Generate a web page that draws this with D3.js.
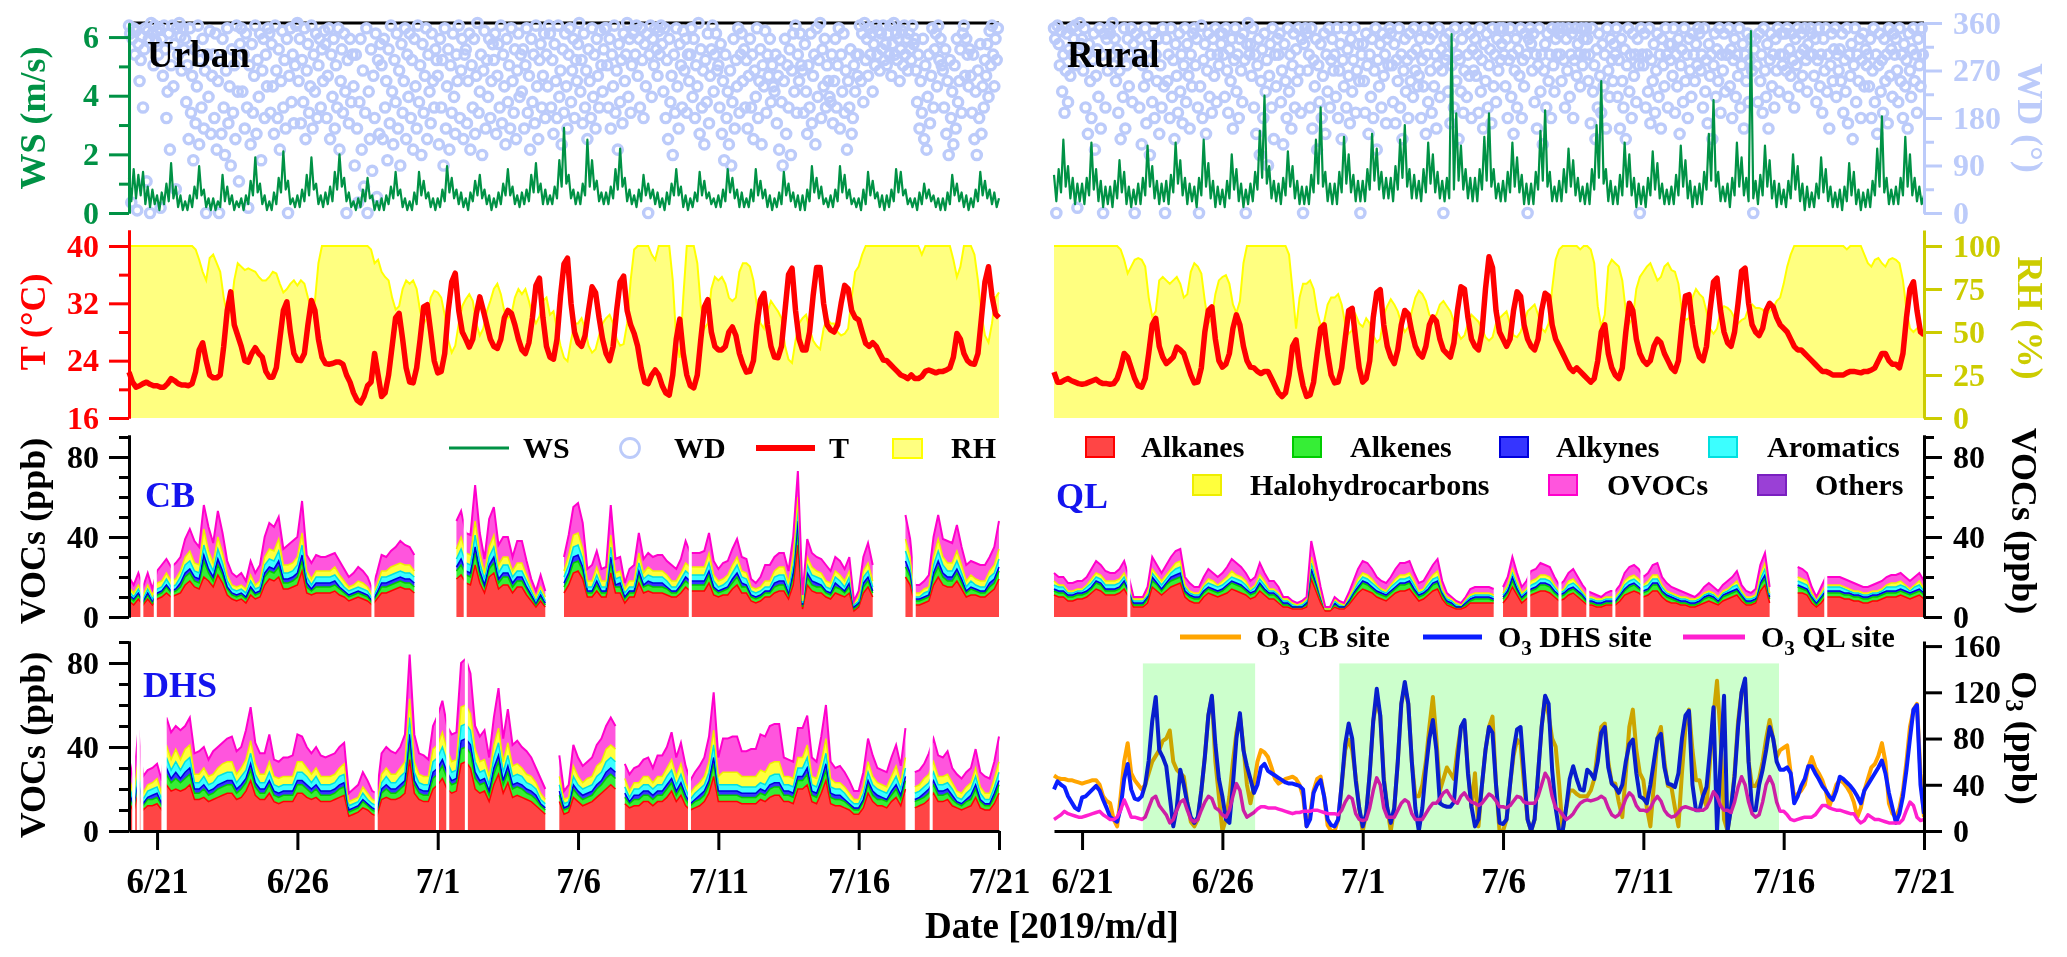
<!DOCTYPE html>
<html><head><meta charset="utf-8">
<script src="https://cdn.jsdelivr.net/npm/d3@7/dist/d3.min.js"></script>
<style>html,body{margin:0;padding:0;background:#fff;}svg{display:block;}</style>
</head><body>
<svg id="chart" width="2067" height="957"></svg>
<script>
// ================= DATA =================
const dateTicks = ["6/21","6/26","7/1","7/6","7/11","7/16","7/21"];
const vocCategories = ["Alkanes","Alkenes","Alkynes","Aromatics","Halohydrocarbons","OVOCs","Others"];
const metLegend = ["WS","WD","T","RH"];
const o3Sites = ["CB site","DHS site","QL site"];
const siteNames = ["CB","DHS","QL"];
const panelNames = ["Urban","Rural"];

// Temperature (°C), 3-hourly from 2019-06-20 00:00
const urbanT = [22.4,21,20.3,20.5,20.8,21,20.7,20.5, 20.5,20.3,20.3,20.8,21.5,21.2,20.8,20.6, 20.6,20.5,20.8,22.5,25.5,26.5,24,22, 21.6,21.6,22,26,31,33.6,29,27.5, 26,24,23.8,25,25.8,25,24.5,22.5, 21.7,21.7,23,27,31,32.2,28,25, 24.1,24,25,29,32.4,31,27,24.5, 23.6,23.5,23.6,23.8,23.8,23.5,22,21, 19.5,18.5,18.1,19,20.5,21,25,22, 19,19.5,22,26,30,30.6,27,23, 21,20.9,23,27,31.5,31.8,28,24, 22.3,22.5,25,31,35,36.2,31,28, 27,25.9,27,30.5,32.9,31,29,27, 26,25.7,27,30,31,30.6,29,27, 25.5,25,26.5,30,34.5,35.5,30,26, 24.5,24.2,27,33,37.5,38.3,32,28, 26.5,26,27.5,31,34.3,33.5,30,27, 25,24,26,31,35,35.8,31,29, 27.8,26,23,21,20.8,22,22.7,22, 20.5,19.5,19.2,22,27,29.8,25,22, 20.5,20.2,22,27,31.5,32.5,28,26, 25.5,25.5,26,28,28.7,27.5,25,23.5, 22.4,22.5,24,29,32.5,33.4,29,26, 24.5,24.4,26,31,36,36.9,31,27, 25.5,25.5,28,33,37,37,32,29, 28.3,28,29,32,34.5,34,31,30, 29.7,28,26.4,26,26.5,26,25,24.1, 24,23.5,23,22.5,22,21.8,21.5,22, 21.5,21.5,21.8,22.5,22.7,22.5,22.3,22.5, 22.5,22.7,23,24.5,27.8,27,25,24, 23.6,23.5,25,30,35,37.1,33,30.5, 30];
const ruralT = [22.4,21,21,21.3,21.5,21.2,21,20.8, 20.7,20.8,21,21.2,21.4,21,20.8,20.8, 20.7,20.8,21.5,23,25,24.5,23,21.5, 20.5,20.3,21.5,25,29,29.9,26,24.5, 23.6,24,24.5,25.9,25.5,25,23.5,22, 20.9,21,23,28,31,31.5,27,24, 23.1,23.5,25,28.5,30.4,29,26,24, 23.1,23,22.5,22.2,22.5,22.5,21.5,20.5, 19.5,19,19.5,22,26,26.9,23,20.5, 19,19.2,21,25,28.5,29,25,22, 20.9,21,23,27,31,31.3,27,23, 21,21.5,24,30,33.5,33.9,29,26, 24.5,23.6,25.5,29,31,30.5,28,26, 25,24.5,26,29,30.1,29.5,27,25.5, 25,24.5,26.5,31,34.3,34,30,27, 26,25.5,28,34,38.5,37,31,28, 27,26,27,31,33.6,33,29,27, 26,25.5,27,31,33.4,33,29,27, 26,25,24,23,22.5,23,22.5,22, 21.5,21,21.5,24,28,29,25,23, 22,21.5,23,28,32,31,27,25, 24,23.5,24,26,27,26.5,25,24, 23,22.5,24,29,33,33.2,29,26, 24.5,24,26,31,35,35.5,31,28, 26.5,26,28,32,36.5,36.9,32,29, 28,27.5,28.5,31,32,31.5,30,29, 28.5,28,27,26,25.5,25.5,25,24.5, 24,23.5,23,22.5,22.5,22.3,22,22, 22,22,22.3,22.5,22.5,22.4,22.3,22.5, 22.5,22.7,23,24,25,25,24,23.5, 23.5,23,25,30,34,35,31,28, 27.6];

// Relative humidity (%), 3-hourly
const urbanRH = [100,100,100,100,100,100,100,100, 100,100,100,100,100,100,100,100, 100,100,100,98,92,85,80,93, 95,90,85,70,60,62,80,90, 88,86,87,86,85,82,80,80, 82,85,84,78,73,75,78,80, 77,80,78,70,63,68,90,100, 100,100,100,100,100,100,100,100, 100,100,100,100,100,98,90,92, 85,82,80,70,63,65,75,80, 78,80,75,62,55,58,70,74, 73,70,60,45,38,42,55,65, 69,72,68,55,48,52,62,68, 75,78,72,62,58,60,70,75, 72,75,68,60,55,59,68,70, 60,62,52,42,35,33,45,55, 55,58,52,42,38,40,48,55, 58,60,55,46,42,43,55,80, 98,100,100,100,100,95,92,100, 100,100,100,80,45,35,70,100, 100,100,90,65,52,55,75,82, 80,82,78,70,68,70,85,90, 90,88,80,65,55,52,62,68, 65,62,58,42,34,32,45,55, 58,60,52,45,42,40,52,58, 55,55,50,48,49,52,70,85, 88,95,100,100,100,100,100,100, 100,100,100,100,100,100,100,100, 100,100,95,100,100,100,100,100, 100,100,100,92,82,88,100,100, 100,95,80,60,48,44,55,70, 73];
const ruralRH = [100,100,100,100,100,100,100,100, 100,100,100,100,100,100,100,100, 100,100,100,98,92,84,88,92, 93,92,88,70,59,62,80,82, 80,78,80,82,78,70,72,85, 90,88,84,68,55,58,72,80, 82,83,78,66,61,68,90,100, 100,100,100,100,100,100,100,100, 100,100,100,95,74,52,70,78, 78,80,75,62,54,56,66,70, 70,72,66,55,49,51,60,55, 53,58,55,48,44,46,60,65, 69,66,62,55,50,53,62,70, 74,72,68,60,58,60,66,68, 65,62,56,50,46,48,55,60, 58,56,52,47,45,47,55,58, 60,62,55,48,47,50,56,62, 64,66,60,52,50,55,75,92, 98,100,100,100,100,100,98,100, 100,98,90,65,53,60,88,92, 90,88,80,62,55,58,75,82, 85,88,90,85,80,82,88,90, 86,85,78,62,57,58,70,75, 72,70,62,52,49,52,62,65, 64,62,58,55,57,58,64,66, 64,64,63,60,62,64,68,70, 78,88,95,100,100,100,100,100, 100,100,100,100,100,100,100,100, 100,100,98,100,100,100,100,95, 90,88,92,93,90,88,92,93, 92,90,80,63,52,50,52,51, 51];

// Wind speed (m/s), 2-hourly
const urbanWS = [1.2,0.4,1.5,0.5,1.3,0.6,1.4,0.3,0.9,0.2,0.8,0.3, 0.6,0.1,0.7,0.3,1.0,0.4,1.7,0.5,0.9,0.2,0.6,0.1, 0.4,0.1,0.6,0.2,0.9,0.5,1.6,0.6,0.8,0.2,0.5,0.1, 0.5,0.1,0.4,0.2,1.3,0.4,0.9,0.3,0.6,0.1,0.4,0.2, 0.5,0.1,0.6,0.3,1.1,0.6,1.9,0.7,1.0,0.3,0.6,0.1, 0.4,0.1,0.7,0.3,1.2,0.7,2.1,0.8,1.1,0.3,0.5,0.2, 0.6,0.2,0.8,0.4,1.3,0.6,1.9,0.8,1.0,0.3,0.6,0.2, 0.7,0.3,0.9,0.4,1.4,0.8,2.0,0.9,1.2,0.4,0.7,0.2, 0.4,0.1,0.5,0.2,0.8,0.4,1.2,0.5,0.6,0.1,0.4,0.1, 0.5,0.1,0.6,0.3,0.9,0.5,1.4,0.6,0.8,0.2,0.5,0.1, 0.4,0.1,0.7,0.3,1.4,0.6,1.1,0.5,0.7,0.2,0.5,0.1, 0.5,0.2,0.8,0.4,1.6,0.7,1.2,0.5,0.8,0.3,0.7,0.2, 0.5,0.1,0.7,0.4,1.1,0.6,1.3,0.5,0.8,0.3,0.6,0.1, 0.5,0.2,0.7,0.3,1.0,0.6,1.5,0.6,0.9,0.3,0.6,0.2, 0.7,0.3,0.8,0.4,1.3,0.7,1.7,0.7,1.0,0.3,0.8,0.3, 0.6,0.3,0.9,0.5,1.8,0.9,2.9,1.0,1.3,0.5,0.8,0.3, 0.7,0.3,1.0,0.6,2.5,0.9,1.8,0.8,1.1,0.4,0.7,0.3, 0.7,0.3,0.9,0.5,1.5,0.8,2.2,0.9,1.2,0.4,0.8,0.3, 0.6,0.2,0.8,0.4,1.3,0.6,1.0,0.5,0.8,0.3,0.7,0.2, 0.5,0.1,0.7,0.3,1.0,0.6,1.5,0.6,0.9,0.2,0.6,0.1, 0.5,0.2,0.7,0.4,1.4,0.6,1.1,0.5,0.7,0.3,0.5,0.2, 0.6,0.2,0.8,0.4,1.5,0.7,1.2,0.5,0.8,0.2,0.7,0.2, 0.5,0.2,0.8,0.4,1.5,0.6,1.1,0.5,0.8,0.2,0.6,0.1, 0.5,0.2,0.7,0.3,1.4,0.6,1.0,0.4,0.7,0.2,0.6,0.1, 0.6,0.1,0.8,0.4,1.6,0.7,1.2,0.5,0.9,0.3,0.5,0.2, 0.6,0.2,0.8,0.4,1.6,0.7,1.3,0.5,0.8,0.3,0.5,0.2, 0.5,0.1,0.8,0.3,1.4,0.6,1.1,0.5,0.7,0.2,0.6,0.1, 0.6,0.2,0.8,0.4,1.5,0.7,1.4,0.6,0.8,0.3,0.5,0.2, 0.5,0.1,0.7,0.3,1.0,0.5,0.8,0.4,0.6,0.2,0.5,0.1, 0.5,0.1,0.7,0.3,1.3,0.6,1.0,0.4,0.7,0.2,0.6,0.1, 0.5,0.2,0.8,0.4,1.4,0.6,1.1,0.5,0.8,0.3,0.7,0.2, 0.5];
const ruralWS = [1.3,0.4,1.5,0.7,2.5,0.9,1.6,0.5,1.2,0.3,1.0,0.4, 1.0,0.3,1.2,0.6,2.4,0.8,1.5,0.4,1.1,0.2,0.9,0.3, 0.9,0.2,1.1,0.5,1.8,0.7,1.4,0.3,0.9,0.2,0.8,0.3, 1.0,0.3,1.2,0.6,2.3,0.9,1.6,0.5,1.1,0.3,1.0,0.4, 1.1,0.3,1.3,0.7,2.4,1.0,1.8,0.6,1.2,0.3,1.0,0.4, 0.9,0.2,1.2,0.6,2.5,0.9,1.7,0.5,1.1,0.2,0.9,0.3, 0.8,0.2,1.1,0.5,2.0,0.8,1.5,0.4,1.0,0.2,0.8,0.3, 1.0,0.4,1.4,0.8,2.8,1.2,4.0,1.0,1.6,0.5,1.1,0.4, 1.0,0.3,1.2,0.6,2.1,0.9,1.6,0.5,1.1,0.3,0.9,0.3, 0.9,0.3,1.3,0.7,2.5,1.0,3.6,0.9,1.4,0.4,1.0,0.3, 1.0,0.3,1.4,0.7,2.6,1.0,2.0,0.7,1.3,0.4,1.1,0.4, 1.1,0.4,1.5,0.8,2.7,1.1,2.2,0.8,1.4,0.5,1.2,0.5, 1.2,0.4,1.6,0.8,2.5,1.2,3.0,0.9,1.5,0.5,1.3,0.5, 1.1,0.4,1.5,0.7,2.4,1.0,2.0,0.7,1.4,0.5,1.1,0.4, 1.2,0.5,6.1,0.8,3.4,1.1,2.3,0.8,1.5,0.5,1.2,0.4, 1.2,0.4,1.5,0.8,2.6,1.1,3.4,0.9,1.5,0.5,1.0,0.4, 1.1,0.4,1.4,0.7,2.4,0.9,1.9,0.7,1.3,0.3,1.0,0.3, 1.0,0.3,1.4,0.8,2.8,1.1,3.5,0.9,1.4,0.4,0.9,0.4, 1.1,0.4,1.5,0.7,2.2,0.9,1.8,0.6,1.2,0.4,0.9,0.3, 1.0,0.3,1.5,0.8,3.0,1.2,4.5,1.0,1.5,0.4,1.1,0.3, 0.9,0.3,1.3,0.6,2.4,0.9,2.0,0.6,1.2,0.2,1.0,0.3, 0.9,0.2,1.2,0.6,2.1,0.8,1.7,0.5,1.0,0.3,0.8,0.3, 0.9,0.3,1.3,0.6,2.3,0.9,1.8,0.5,1.1,0.2,0.9,0.3, 1.0,0.3,1.4,0.8,2.7,1.1,3.85,0.9,1.4,0.4,0.9,0.4, 1.0,0.2,1.2,0.6,2.4,0.9,1.9,0.6,1.2,0.4,6.2,0.5, 1.1,0.3,1.3,0.6,2.3,0.9,1.8,0.5,1.1,0.2,1.0,0.3, 0.8,0.2,1.1,0.5,2.0,0.8,1.6,0.4,1.0,0.1,0.9,0.2, 0.7,0.2,1.0,0.5,1.9,0.7,1.5,0.4,0.9,0.2,0.7,0.2, 0.8,0.1,0.9,0.4,1.7,0.6,1.4,0.3,0.8,0.1,0.7,0.2, 0.8,0.2,1.1,0.6,2.2,0.9,3.3,0.7,1.2,0.3,0.8,0.3, 0.9,0.3,1.2,0.6,2.6,0.9,2.0,0.6,1.2,0.4,0.9,0.3, 0.6];

// Wind direction (°), hourly
const urbanWD = [355,340,20,330,350,300,345,5,320,250,290,335,200,310,350,60,345,330,0,360,340,280,355,325,
345,300,350,10,330,260,355,310,180,230,340,120,280,355,240,320,45,350,300,360,335,270,350,310,
330,210,280,140,350,190,260,100,310,170,240,355,130,290,200,330,160,270,0,300,220,345,150,260,
300,180,340,120,250,0,290,150,330,200,110,270,350,170,240,90,310,190,280,140,355,230,60,320,
350,230,300,160,340,200,10,280,130,320,190,260,355,150,290,220,340,100,270,330,180,300,240,350,
340,190,320,240,150,355,270,180,310,120,250,345,200,290,160,330,0,260,350,210,300,170,280,355,
360,250,330,170,290,210,350,140,270,320,190,240,355,160,300,230,340,180,280,330,200,310,250,345,
320,180,260,350,140,300,220,330,160,280,200,350,120,250,310,190,340,230,0,290,170,330,210,300,
240,90,300,160,20,210,330,120,270,50,190,350,0,230,140,310,80,260,180,340,30,290,150,320,
280,140,330,200,250,100,310,170,355,230,130,290,210,340,160,270,90,320,190,250,350,140,300,220,
340,180,290,120,330,240,160,355,210,280,110,320,190,260,350,140,300,230,170,340,250,200,310,290,
260,130,330,200,290,90,350,160,240,310,120,280,190,340,220,150,300,250,355,180,270,330,140,300,
310,170,250,340,120,280,200,330,150,260,360,190,230,300,110,270,345,160,290,220,330,180,250,320,
290,340,150,260,320,200,355,170,300,240,130,330,210,280,160,350,250,190,310,140,270,340,220,300,
230,310,160,280,350,190,260,120,330,210,300,170,355,240,140,290,320,200,260,340,180,300,240,355,
340,200,290,150,320,250,180,355,220,270,130,310,190,340,240,160,300,350,210,270,330,180,290,250,
320,360,230,290,170,340,200,270,140,310,250,180,350,220,300,160,330,260,200,345,280,230,310,350,
350,280,200,330,160,300,240,355,190,270,120,320,210,290,170,340,250,300,360,220,330,190,280,340,
345,300,355,260,330,200,350,290,180,320,240,340,0,300,355,220,330,280,350,310,260,345,300,355,
320,230,350,180,290,140,330,210,260,110,300,190,350,240,160,320,280,200,345,270,330,190,300,250,
300,350,220,330,180,280,240,360,150,310,200,270,130,290,210,340,170,260,310,355,230,300,340,270,
280,200,320,150,250,100,300,180,230,130,270,90,210,330,160,290,240,350,190,300,340,250,310,200,
290,160,260,330,200,300,140,270,220,350,180,250,310,130,280,240,345,190,300,260,330,210,280,240,
230,300,170,260,120,290,210,90,250,330,150,280,200,310,110,270,340,230,355,190,300,250,340,280,
270,190,320,230,150,280,200,340,170,260,300,130,350,220,290,360,180,310,240,330,200,280,250,220,
210,300,170,250,330,200,280,350,160,300,230,340,190,270,120,250,200,310,150,180,280,230,300,260,
300,355,250,340,210,360,290,330,260,350,300,340,230,320,280,355,300,345,270,340,310,355,290,320,
280,340,300,355,260,320,360,300,340,290,330,250,310,345,280,355,300,330,270,340,310,290,355,320,
330,270,210,300,160,250,190,330,140,280,120,220,300,170,260,350,200,310,340,240,355,290,330,280,
270,200,310,150,250,110,290,180,230,130,280,160,330,210,250,310,190,340,355,260,330,300,240,310,
260,190,300,140,230,110,270,180,320,150,240,200,290,260,320,220,345,280,355,300,240,330,290,350];
const ruralWD = [350,330,0,355,320,280,345,230,300,190,270,340,210,310,260,350,300,330,355,280,10,310,360,320,
330,270,350,200,300,150,320,250,180,290,340,120,260,310,220,350,160,300,0,340,200,330,270,350,
340,300,360,280,330,250,310,190,270,140,300,220,350,160,280,330,240,300,350,210,320,0,340,290,
300,200,330,130,280,240,350,170,260,320,110,290,210,340,180,300,250,330,150,280,200,350,240,0,
330,250,300,180,350,220,290,140,320,260,190,340,230,300,170,280,350,210,320,260,160,300,240,340,
350,280,330,200,0,240,355,180,290,320,150,270,340,220,300,190,330,260,350,210,300,280,340,320,
340,300,220,350,270,190,310,250,330,160,290,350,230,300,180,330,270,210,340,290,0,320,360,300,
320,260,350,200,300,150,280,330,110,250,310,180,340,230,290,90,260,320,200,350,140,300,240,330,
300,340,210,270,130,320,250,180,350,230,300,160,280,340,200,310,250,350,270,190,330,0,320,350,
340,270,300,200,350,160,290,240,330,120,280,210,320,180,260,340,150,300,230,350,200,290,330,270,
300,220,350,180,270,320,140,290,240,350,200,310,260,170,330,230,290,350,190,270,320,250,0,300,
320,250,190,340,280,150,300,220,330,180,270,350,120,290,240,320,200,340,260,300,170,330,280,350,
340,280,210,320,170,290,250,350,200,300,140,270,330,230,290,180,340,250,300,220,350,270,310,240,
260,330,180,290,240,350,150,300,210,330,270,190,340,240,300,160,280,350,220,310,270,0,330,290,
300,230,340,170,280,320,200,350,250,300,140,290,230,330,190,270,350,220,300,260,340,180,310,270,
330,260,300,190,350,230,290,160,320,250,340,200,280,310,170,350,240,300,210,330,270,350,290,320,
350,300,240,330,180,290,350,220,300,150,270,330,200,310,260,350,180,290,240,340,300,0,330,350,
320,270,340,210,300,160,280,350,230,300,130,270,320,200,340,250,300,180,350,280,230,330,300,350,
340,300,250,350,290,200,330,270,350,220,300,340,180,290,350,260,320,300,240,350,280,330,300,350,
330,250,300,170,350,230,280,140,310,200,340,260,190,320,240,300,160,350,270,220,330,290,250,320,
300,350,220,290,160,330,250,200,310,140,280,350,230,300,180,340,260,300,210,330,280,0,350,300,
280,340,200,300,230,350,170,290,250,320,190,270,340,220,300,160,330,280,240,350,300,200,320,290,
320,260,350,190,300,240,330,150,280,310,210,350,250,300,180,330,270,220,340,300,250,320,280,350,
340,270,300,200,350,230,290,170,320,260,300,140,280,340,220,310,250,350,190,300,270,340,230,300,
300,350,240,310,180,290,330,220,300,260,350,200,280,320,160,300,250,340,210,290,330,270,0,310,
330,280,210,340,250,300,190,350,270,220,320,160,290,340,240,300,200,330,270,350,230,300,340,280,
300,340,270,350,220,310,260,340,290,200,330,280,350,240,300,340,260,310,350,290,230,320,300,350,
340,300,260,330,210,290,350,240,300,190,330,270,350,230,300,160,280,340,250,310,350,220,300,270,
310,250,340,190,290,230,350,170,300,260,320,140,280,350,210,300,250,330,180,290,340,240,310,280,
300,240,330,180,270,350,210,300,150,280,340,230,290,190,330,250,300,170,350,260,310,220,340,300,
330,270,210,350,250,300,180,320,240,290,160,340,270,220,310,350,250,300,190,330,280,240,350,300];

// VOCs (ppb), 4-hourly rows [Alkanes, Alkenes, Alkynes, Aromatics, Halohydrocarbons, OVOCs]; null = no data
const vocCB = [
[8,2,1,2,2,5],[6,2,1,1,2,4],[9,2,1,2,2,6],[6,1,1,1,2,4],[9,2,1,2,2,6],[6,1,1,1,2,3],
[9,2,1,2,3,6],[10,2,1,2,3,8],[12,3,1,3,3,7],[10,2,1,2,3,7],[11,2,1,2,3,8],[12,3,2,3,3,7],
[16,4,2,4,4,9],[18,4,2,4,5,11],[15,3,2,3,4,11],[14,3,2,3,4,9],[20,8,3,5,8,12],[18,4,2,4,5,12],
[15,3,2,3,4,10],[21,5,3,5,6,13],[17,4,2,4,5,10],[11,3,1,3,3,7],[9,2,1,2,2,6],[8,2,1,2,2,5],
[9,2,1,2,2,6],[7,2,1,2,2,4],[11,3,1,3,3,7],[9,2,1,2,2,6],[10,2,1,2,3,8],[16,4,2,4,4,10],
[19,4,2,4,5,13],[18,4,2,4,5,12],[20,5,3,5,6,11],[14,3,2,3,4,8],[14,3,2,3,4,10],[15,3,2,3,4,11],
[16,4,2,4,4,10],[23,5,3,5,6,16],[12,3,2,3,3,8],[11,2,1,2,3,8],[12,3,2,3,3,8],[12,3,2,3,3,7],
[12,3,2,3,3,7],[12,3,2,3,3,8],[13,3,2,3,4,7],[11,3,1,3,3,7],[10,2,1,2,3,6],[8,2,1,2,2,5],
[9,2,1,2,2,6],[10,2,1,2,3,7],[9,2,1,2,3,6],[8,2,1,2,2,5],[6,1,1,1,2,3],[9,2,1,2,2,6],
[12,3,2,3,3,8],[12,3,2,3,3,7],[13,3,2,3,4,8],[14,3,2,3,4,9],[15,3,2,3,4,11],[14,3,2,3,4,10],
[14,3,2,3,4,9],[12,3,2,3,3,8],null,null,null,null,
null,null,null,null,[19,4,2,4,5,14],[21,5,3,5,6,13],
[17,4,2,4,5,10],[16,4,2,4,5,10],[26,6,3,6,7,18],[17,4,2,4,5,10],[12,3,1,3,3,7],[20,4,2,4,5,14],
[22,5,3,5,6,14],[14,3,2,3,4,10],[16,4,2,4,4,10],[16,4,2,4,4,10],[12,3,2,3,3,7],[15,3,2,3,4,11],
[15,3,2,3,4,11],[11,3,1,3,3,7],[8,2,1,2,2,4],[5,1,1,1,2,3],[8,2,1,2,2,6],[5,1,1,1,2,3],
null,null,null,[12,3,2,3,3,7],[16,4,2,4,5,10],[22,5,3,5,6,14],
[23,5,3,5,6,15],[19,4,2,4,5,13],[10,2,1,2,3,6],[10,2,1,2,3,8],[13,3,2,3,4,8],[10,2,1,2,3,6],
[10,2,1,2,3,7],[22,5,3,5,6,15],[12,3,1,3,3,7],[12,3,2,3,3,7],[7,2,1,2,2,3],[10,2,1,2,3,6],
[10,2,1,2,3,8],[17,4,2,4,5,10],[12,3,1,3,3,7],[13,3,2,3,4,7],[12,3,2,3,3,7],[12,3,2,3,3,8],
[12,3,2,3,3,8],[11,3,1,3,3,7],[10,2,1,2,3,8],[10,2,1,2,3,6],[12,3,1,3,3,7],[15,3,2,3,4,11],
[13,3,2,3,4,7],[13,3,2,3,4,7],[13,3,2,3,4,7],[13,3,2,3,4,8],[17,4,2,4,5,10],[11,3,1,3,3,7],
[10,2,1,2,3,6],[11,2,1,2,3,8],[11,3,1,3,3,7],[14,3,2,3,4,8],[16,4,2,4,4,9],[12,3,2,3,3,7],
[12,3,1,3,3,7],[8,2,1,2,2,4],[7,2,1,2,2,3],[8,2,1,2,2,5],[10,2,1,2,3,8],[10,2,1,2,3,8],
[12,3,2,3,3,7],[13,3,2,3,4,7],[13,3,2,3,4,7],[9,2,1,2,3,6],[16,4,2,4,4,10],[36,8,4,7,5,13],
[4,1,1,1,1,3],[16,4,2,4,4,9],[13,3,2,3,4,7],[12,3,2,3,3,7],[12,3,1,3,3,7],[10,2,1,2,3,8],
[9,2,1,2,3,6],[12,3,2,3,3,7],[11,3,1,3,3,7],[10,2,1,2,3,6],[12,3,2,3,3,7],[3,1,1,1,1,1],
[5,1,1,1,2,3],[12,3,2,3,3,7],[15,3,2,3,4,10],[10,2,1,2,3,8],null,null,
null,null,null,null,[20,5,3,5,6,12],[16,4,2,4,4,9],
[6,2,1,1,2,4],[6,2,1,1,2,4],[7,2,1,2,2,4],[8,2,1,2,2,6],[16,4,2,4,4,10],[20,5,3,5,6,12],
[16,4,2,4,4,9],[15,3,2,3,4,11],[15,3,2,3,4,10],[18,4,2,4,5,13],[14,3,2,3,4,9],[10,2,1,2,3,8],
[11,3,1,3,3,7],[11,2,1,2,3,8],[10,2,1,2,3,8],[10,2,1,2,3,8],[12,3,2,3,3,7],[14,3,2,3,4,9],
[19,4,2,4,5,14]];
const vocDHS = [
[14,3,2,3,4,9],[9,2,1,2,3,6],[19,4,2,4,5,14],[10,2,1,2,3,8],[12,3,1,3,3,7],[12,3,2,3,3,7],
[13,3,2,3,4,7],[10,2,1,2,3,6],[22,5,3,5,6,13],[19,4,2,4,5,13],[20,5,3,5,6,11],[19,4,2,4,5,14],
[20,5,3,5,6,11],[22,5,3,5,6,13],[15,3,2,3,4,10],[15,3,2,3,4,11],[16,4,2,4,4,10],[14,3,2,3,4,8],
[15,3,2,3,4,11],[16,4,2,4,4,10],[17,4,2,4,5,10],[18,4,2,4,5,11],[18,4,2,4,5,12],[15,3,2,3,4,11],
[16,4,2,4,4,10],[19,4,2,4,5,14],[24,5,3,5,6,16],[17,4,2,4,5,10],[15,3,2,3,4,10],[15,3,2,3,4,10],
[18,4,2,4,5,13],[14,3,2,3,4,8],[13,3,2,3,4,8],[14,3,2,3,4,9],[14,3,2,3,4,9],[14,3,2,3,4,10],
[18,4,2,4,5,13],[18,4,2,4,5,12],[16,4,2,4,4,10],[15,3,2,3,4,10],[16,4,2,4,4,10],[14,3,2,3,4,10],
[14,3,2,3,4,9],[14,3,2,3,4,10],[15,3,2,3,4,10],[16,4,2,4,4,10],[17,4,2,4,5,10],[7,2,1,2,2,4],
[8,2,1,2,2,5],[9,2,1,2,2,6],[11,3,1,3,3,7],[10,2,1,2,3,6],[8,2,1,2,2,4],[7,2,1,2,2,4],
[15,3,2,3,4,10],[16,4,2,4,4,10],[15,3,2,3,4,11],[15,3,2,3,4,10],[16,4,2,4,4,10],[18,4,2,4,5,13],
[34,8,4,8,9,21],[18,4,2,4,5,13],[15,3,2,3,4,10],[14,3,2,3,4,10],[14,3,2,3,4,8],[20,5,3,5,6,11],
[22,5,3,5,6,14],[25,6,3,6,7,15],[20,5,3,5,6,11],[18,4,2,4,5,13],[19,4,2,4,5,13],[32,7,4,7,9,21],
[33,7,4,7,9,22],[30,7,4,7,8,19],[20,5,3,5,6,11],[18,4,2,4,5,12],[19,4,2,4,5,14],[14,3,2,3,4,9],
[22,5,3,5,6,13],[27,6,3,6,7,19],[18,4,2,4,5,11],[23,5,3,5,6,16],[16,4,2,4,5,10],[17,4,2,4,5,11],
[16,4,2,4,4,10],[15,3,2,3,4,11],[14,3,2,3,4,9],[12,3,2,3,3,7],[10,2,1,2,3,7],[8,2,1,2,2,5],
null,null,[14,3,2,3,4,10],[8,2,1,2,2,4],[9,2,1,2,2,6],[16,4,2,4,5,10],
[14,3,2,3,4,9],[12,3,2,3,3,8],[13,3,2,3,4,8],[14,3,2,3,4,9],[16,4,2,4,5,10],[18,4,2,4,5,11],
[20,5,3,5,6,11],[22,5,3,5,6,13],[20,5,3,5,6,11],null,[13,3,2,3,4,7],[11,2,1,2,3,8],
[12,3,2,3,3,7],[12,3,2,3,3,8],[14,3,2,3,4,8],[14,3,2,3,4,9],[12,3,2,3,3,7],[14,3,2,3,4,10],
[14,3,2,3,4,10],[16,4,2,4,4,10],[19,4,2,4,5,13],[14,3,2,3,4,9],[17,4,2,4,5,10],[12,3,2,3,3,8],
[10,2,1,2,3,6],[11,3,1,3,3,7],[12,3,2,3,3,8],[14,3,2,3,4,9],[18,4,2,4,5,12],[26,6,3,6,7,18],
[14,3,2,3,4,9],[14,3,2,3,6,16],[14,3,2,3,6,16],[14,3,2,3,6,17],[14,3,2,3,6,17],[13,3,2,3,5,12],
[13,3,2,3,5,12],[13,3,2,3,5,13],[13,3,2,3,5,13],[15,3,2,3,6,17],[14,3,2,3,6,17],[16,4,2,4,6,18],
[17,4,2,4,6,18],[17,4,2,4,6,18],[14,3,2,3,4,9],[14,3,2,3,4,8],[13,3,2,3,4,8],[20,4,2,4,5,14],
[20,4,2,4,5,14],[22,5,3,5,6,14],[14,3,2,3,4,9],[13,3,2,3,4,8],[18,4,2,4,5,12],[24,5,3,5,7,16],
[13,3,2,3,4,8],[12,3,2,3,3,7],[12,3,2,3,3,8],[11,3,1,3,3,7],[10,2,1,2,3,6],[8,2,1,2,2,4],
[8,2,1,2,2,4],[11,3,1,3,3,7],[18,4,2,4,5,11],[14,3,2,3,4,10],[12,3,2,3,3,7],[12,3,1,3,3,7],
[11,3,1,3,3,7],[14,3,2,3,4,9],[16,4,2,4,5,10],[12,3,2,3,3,8],[20,4,2,4,5,14],null,
[11,3,1,3,3,7],[12,3,1,3,3,7],[13,3,2,3,4,7],[15,3,2,3,4,10],[18,4,2,4,5,11],[14,3,2,3,4,10],
[14,3,2,3,4,9],[15,3,2,3,4,11],[12,3,2,3,3,7],[11,2,1,2,3,8],[10,2,1,2,3,7],[11,3,1,3,3,7],
[12,3,2,3,3,7],[16,4,2,4,4,9],[11,3,1,3,3,7],[10,2,1,2,3,8],[10,2,1,2,3,7],[13,3,2,3,4,8],
[18,4,2,4,5,12]];
const vocQL = [
[11,2,1,2,2,4],[10,2,1,2,1,4],[10,2,1,2,1,4],[8,2,1,1,1,4],[8,2,1,1,1,4],[9,2,1,1,1,4],
[9,2,1,1,1,4],[10,2,1,2,1,4],[12,2,1,2,2,5],[14,3,1,2,2,6],[13,3,1,2,2,5],[11,2,1,2,2,5],
[11,2,1,2,2,4],[11,2,1,2,2,4],[12,2,1,2,2,5],[14,3,1,2,2,6],[10,2,1,2,1,4],[5,1,1,1,1,1],
[5,1,1,1,1,1],[5,1,1,1,1,1],[7,2,1,1,1,3],[15,3,2,2,2,6],[13,3,1,2,2,5],[11,2,1,2,2,4],
[13,3,1,2,2,5],[15,3,2,2,2,6],[16,3,2,3,3,6],[17,3,2,3,3,6],[10,2,1,2,1,4],[8,2,1,1,1,4],
[7,2,1,1,1,3],[7,2,1,1,1,3],[10,2,1,2,1,4],[12,2,1,2,2,5],[11,2,1,2,2,4],[10,2,1,2,1,4],
[11,2,1,2,2,4],[12,3,1,2,2,5],[14,3,1,2,3,6],[13,3,1,2,2,6],[12,3,1,2,2,5],[11,2,1,2,2,4],
[9,2,1,1,1,4],[10,2,1,2,1,4],[13,3,1,2,2,6],[11,2,1,2,2,4],[9,2,1,1,1,4],[9,2,1,1,1,4],
[7,2,1,1,1,3],[5,1,1,1,1,1],[5,1,1,1,1,1],[4,1,0,1,1,1],[4,1,0,1,0,1],[4,1,0,1,1,1],
[5,1,1,1,1,1],[19,3,2,3,3,8],[13,3,1,2,2,6],[7,2,1,1,1,3],[3,1,0,0,0,1],[3,1,0,0,0,1],
[5,1,1,1,1,1],[4,1,0,1,1,1],[4,1,0,1,0,1],[6,1,1,1,1,2],[9,2,1,1,1,4],[12,2,1,2,2,5],
[14,3,1,2,2,6],[13,3,1,2,2,6],[12,2,1,2,2,5],[10,2,1,2,1,4],[9,2,1,1,1,4],[8,2,1,1,1,4],
[10,2,1,2,1,4],[12,2,1,2,2,5],[13,3,1,2,2,6],[13,3,1,2,2,6],[14,3,1,2,2,6],[11,2,1,2,2,4],
[8,2,1,1,1,4],[9,2,1,1,1,4],[11,2,1,2,2,4],[13,3,1,2,2,5],[14,3,1,2,3,6],[9,2,1,1,1,4],
[6,1,1,1,1,2],[5,1,1,1,1,1],[4,1,0,1,1,1],[4,1,0,1,0,1],[5,1,1,1,1,1],[7,1,1,1,1,3],
[7,2,1,1,1,3],[7,2,1,1,1,3],[7,2,1,1,1,3],[7,2,1,1,1,3],[7,1,1,1,1,3],null,
[7,2,1,1,1,3],[10,2,1,2,1,4],[15,3,2,2,2,6],[11,2,1,2,2,4],[7,2,1,1,1,3],[9,2,1,1,1,4],
[11,2,1,2,2,5],[12,2,1,2,2,5],[13,3,1,2,2,6],[13,3,1,2,2,5],[12,3,1,2,2,5],[10,2,1,2,1,4],
[8,2,1,1,1,3],[9,2,1,1,1,4],[11,2,1,2,2,4],[12,2,1,2,2,5],[10,2,1,2,1,4],[8,2,1,1,1,3],
[6,1,1,1,1,3],[6,1,1,1,1,2],[5,1,1,1,1,2],[5,1,1,1,1,1],[6,1,1,1,1,2],[6,1,1,1,1,3],
[6,1,1,1,1,3],[8,2,1,1,1,3],[11,2,1,2,2,4],[12,3,1,2,2,5],[13,3,1,2,2,5],[12,2,1,2,2,5],
[10,2,1,2,1,4],[11,2,1,2,2,4],[13,3,1,2,2,5],[13,3,1,2,2,6],[10,2,1,2,1,4],[8,2,1,1,1,4],
[7,2,1,1,1,3],[7,1,1,1,1,3],[6,1,1,1,1,3],[6,1,1,1,1,2],[5,1,1,1,1,2],[5,1,1,1,1,1],
[6,1,1,1,1,2],[7,2,1,1,1,3],[8,2,1,1,1,4],[7,2,1,1,1,3],[6,1,1,1,1,3],[8,2,1,1,1,3],
[9,2,1,1,1,4],[10,2,1,2,1,4],[11,2,1,2,2,5],[8,2,1,1,1,3],[6,1,1,1,1,3],[6,1,1,1,1,2],
[7,1,1,1,1,3],[13,3,1,2,2,5],[16,3,2,3,3,5],[7,2,1,1,1,3],null,null,
null,null,null,[12,3,1,2,2,5],[12,2,1,2,2,5],[11,2,1,2,2,4],
[7,2,1,1,1,3],[5,1,1,1,1,1],[7,2,1,1,1,3],[10,2,1,2,1,4],[10,2,1,2,1,4],[10,2,1,2,1,4],
[10,2,1,2,1,4],[9,2,1,2,1,4],[9,2,1,1,1,4],[8,2,1,1,1,4],[8,2,1,1,1,3],[7,2,1,1,1,3],
[7,2,1,1,1,3],[8,2,1,1,1,3],[8,2,1,1,1,4],[9,2,1,1,1,4],[10,2,1,2,1,4],[10,2,1,2,2,4],
[10,2,1,2,2,4],[11,2,1,2,2,4],[10,2,1,2,1,4],[9,2,1,1,1,4],[10,2,1,2,1,4],[11,2,1,2,2,4],
[9,2,1,1,1,4]];
// single missing hours (hours since 6/20 00:00)
const gapsCB = [11,22.5,37,208.6,287.5,480,671.5];
const gapsDHS = [4,8,11,29,31,211.4,263.8,272.6,288.5,479.3,686];
const gapsQL = [64,406,432.7,456.5,478.8,502.8,660];

// O3 (ppb), 3-hourly
const o3CB = [48,46,45,45,44,44,43,42, 41,42,43,44,44,40,30,26, 24,10,4,30,60,76,50,44, 40,36,40,50,60,65,70,78, 80,87,60,53,50,47,25,8, 4,10,35,64,100,116,60,30, 0,10,30,60,85,99,73,40, 24,40,60,70,68,64,55,45, 41,43,45,46,47,45,40,30, 4,15,35,45,47,30,5,0, 0,10,40,70,79,70,47,20, 0,15,50,95,113,100,47,20, 0,20,60,110,125,110,60,30, 30,40,60,90,116,80,35,45, 55,50,45,70,90,94,53,20, 50,4,40,70,90,99,40,0, 0,10,40,65,79,75,40,10, 0,10,50,90,116,100,80,73, 40,0,20,35,35,32,30,30, 30,35,45,70,90,93,60,41, 41,25,12,50,90,105,70,50, 44,20,4,40,80,90,60,39, 38,20,4,50,90,105,70,44, 44,30,21,60,100,130,82,10, 0,20,50,95,120,129,60,39, 39,45,60,80,96,80,64,70, 72,74,50,30,32,35,40,55, 64,55,50,44,35,21,30,40, 44,42,38,33,25,12,20,35, 45,55,58,65,76,60,24,15, 12,20,35,60,90,105,110,50, 12];
const o3DHS = [36,43,40,38,30,25,20,18, 29,30,33,36,39,35,27,20, 12,10,8,20,45,58,36,28, 27,30,40,61,95,116,70,64, 56,30,4,20,53,40,24,12, 7,12,35,64,100,117,75,45, 30,10,7,40,80,102,70,56, 45,33,40,55,58,52,50,48, 46,44,42,41,41,40,39,36, 4,10,33,40,44,30,10,5, 4,10,40,75,93,80,44,20, 4,15,50,95,123,100,44,20, 7,20,60,110,129,110,60,20, 0,20,53,80,96,70,24,22, 21,21,25,60,90,96,50,21, 4,10,40,70,90,85,40,7, 6,10,40,70,88,90,50,10, 0,10,50,90,117,110,53,20, 0,0,20,45,56,45,36,35, 53,50,45,60,85,90,55,41, 38,33,40,60,75,79,50,30, 28,24,40,60,80,84,55,41, 40,38,50,80,100,104,40,18, 18,30,38,70,107,0,60,117, 0,20,47,90,120,132,60,18, 18,40,53,70,90,80,60,53, 53,55,50,24,30,39,45,56, 56,50,45,39,35,30,27,35, 47,45,42,39,35,30,24,35, 40,45,50,55,61,50,33,20, 7,15,30,53,80,105,109,40, 15];
const o3QL = [10,12,14,17,15,14,13,12, 12,13,14,15,16,17,14,12, 10,10,12,18,27,20,12,12, 11,10,12,20,28,30,22,18, 14,7,10,18,25,27,18,10, 8,10,18,25,30,28,20,18, 14,12,18,30,41,35,18,12, 14,16,19,21,21,20,20,20, 19,18,17,16,15,16,16,17, 17,17,18,18,17,16,15,15, 15,14,18,25,30,28,15,10, 9,10,20,35,46,40,20,12, 12,12,18,24,27,25,15,10, 10,10,15,20,24,24,28,33, 35,30,26,24,30,33,28,25, 24,22,24,28,32,30,26,21, 21,20,22,26,30,29,25,24, 24,24,30,40,50,45,30,20, 18,14,10,12,15,20,24,26, 27,26,27,28,30,28,20,14, 12,14,20,28,33,30,22,18, 18,17,20,26,30,26,18,14, 12,13,16,20,21,20,19,18, 18,18,20,26,34,30,22,18, 18,16,25,38,47,40,25,15, 12,14,25,40,47,40,25,17, 17,14,10,9,10,11,12,12, 12,14,18,22,22,20,19,18, 18,17,16,15,15,10,7,9, 14,12,10,10,9,8,7,7, 7,7,10,18,25,22,12,9, 10];
// high-O3 episodes [start, end] in hours since 6/20 00:00, shaded up to 145 ppb
const o3Episodes = [[76,172],[244,620]];
const o3EpisodeTop = 145;

// ================= CHART =================
const FONT = '"Liberation Serif","Times New Roman",Times,serif';
const svg = d3.select('#chart').attr('font-family', FONT).attr('font-weight', 'bold');
const T0 = Date.UTC(2019,5,20), HR = 3600e3;
const tAt = (i, stepH) => new Date(T0 + i*stepH*HR);
const dom = [new Date(T0), new Date(Date.UTC(2019,6,21))];
const xL = d3.scaleUtc().domain(dom).range([129, 999]);
const xR = d3.scaleUtc().domain(dom).range([1054, 1924]);
const tickDates = dateTicks.map(s => { const [m,d] = s.split('/').map(Number); return new Date(Date.UTC(2019, m-1, d)); });

const yWS = d3.scaleLinear([0, 6.48], [213, 23]);
const yWD = d3.scaleLinear([0, 360], [213, 23]);
const yT  = d3.scaleLinear([16, 42.23], [418, 230]);
const yRH = d3.scaleLinear([0, 109.3], [418, 230]);
const yV3 = d3.scaleLinear([0, 91], [617, 435]);
const yV4 = d3.scaleLinear([0, 90.48], [831, 641]);
const yO3 = d3.scaleLinear([0, 164.4], [831, 641]);

const C = {ws:'#009245', wd:'#bccbfa', t:'#ff0000', rhFill:'#ffff80', rhLine:'#ffff00', rhAxis:'#cccc00', site:'#1414ee'};
const vocFill = ['#ff4545','#36ee36','#3535ff','#3cffff','#ffff3c','#ff55dd','#9a40d6'];
const vocLine = ['#ff0000','#00cc00','#0000dd','#00e0e0','#eeee00','#ff00cc','#7a20c0'];
const o3Colors = ['#ffa500','#0a1eff','#ff1fcf'];

// ---- met panels ----
function metPanel(x, ws, wd, t, rh) {
  const [x0, x1] = x.range();
  const g = svg.append('g');
  g.append('line').attr('x1', x0).attr('x2', x1).attr('y1', 23).attr('y2', 23).attr('stroke', '#000').attr('stroke-width', 3);
  g.append('g').selectAll('circle').data(wd).join('circle')
    .attr('cx', (d,i) => x(tAt(i,1))).attr('cy', d => yWD(d)).attr('r', 4.6)
    .attr('fill', 'none').attr('stroke', C.wd).attr('stroke-width', 3.4);
  g.append('path').datum(ws).attr('d', d3.line().x((d,i) => x(tAt(i,2))).y(d => yWS(d)))
    .attr('fill', 'none').attr('stroke', C.ws).attr('stroke-width', 2.2).attr('stroke-linejoin', 'round');
  g.append('path').datum(rh).attr('d', d3.area().x((d,i) => x(tAt(i,3))).y0(yRH(0)).y1(d => yRH(d)))
    .attr('fill', C.rhFill);
  g.append('path').datum(rh).attr('d', d3.line().x((d,i) => x(tAt(i,3))).y(d => yRH(d)))
    .attr('fill', 'none').attr('stroke', C.rhLine).attr('stroke-width', 2);
  g.append('path').datum(t).attr('d', d3.line().x((d,i) => x(tAt(i,3))).y(d => yT(d)))
    .attr('fill', 'none').attr('stroke', C.t).attr('stroke-width', 5.5).attr('stroke-linejoin', 'round');
}
metPanel(xL, urbanWS, urbanWD, urbanT, urbanRH);
metPanel(xR, ruralWS, ruralWD, ruralT, ruralRH);

// ---- VOC panels ----
function vocPanel(x, y, rows, gaps) {
  const pts = rows.map((r,i) => ({t: tAt(i,4), r, c: r ? Array.from(d3.cumsum(r)) : null}));
  const def = d => d.r !== null;
  const g = svg.append('g');
  for (let k = 0; k < 6; k++) {
    g.append('path').datum(pts)
      .attr('d', d3.area().defined(def).x(d => x(d.t)).y0(d => y(k ? d.c[k-1] : 0)).y1(d => y(d.c[k])))
      .attr('fill', vocFill[k]);
  }
  for (let k = 0; k < 6; k++) {
    g.append('path').datum(pts)
      .attr('d', d3.line().defined(def).x(d => x(d.t)).y(d => y(d.c[k])))
      .attr('fill', 'none').attr('stroke', vocLine[k]).attr('stroke-width', k === 5 ? 2 : 1.5);
  }
  const [yb, yt] = y.range();
  g.append('g').selectAll('rect').data(gaps).join('rect')
    .attr('x', h => x(new Date(T0 + h*HR)) - 1.5).attr('width', 3)
    .attr('y', yt).attr('height', yb - yt).attr('fill', '#fff');
}
vocPanel(xL, yV3, vocCB, gapsCB);
vocPanel(xL, yV4, vocDHS, gapsDHS);
vocPanel(xR, yV3, vocQL, gapsQL);

// ---- O3 panel ----
[o3CB, o3DHS, o3QL].forEach((s, k) => {
  svg.append('path').datum(s).attr('d', d3.line().x((d,i) => xR(tAt(i,3))).y(d => yO3(d)))
    .attr('fill', 'none').attr('stroke', o3Colors[k]).attr('stroke-width', k === 2 ? 3.5 : 4)
    .attr('stroke-linejoin', 'round');
});
svg.append('g').selectAll('rect').data(o3Episodes).join('rect')
  .attr('x', d => xR(new Date(T0 + d[0]*HR))).attr('width', d => xR(new Date(T0 + d[1]*HR)) - xR(new Date(T0 + d[0]*HR)))
  .attr('y', yO3(o3EpisodeTop)).attr('height', yO3(0) - yO3(o3EpisodeTop))
  .attr('fill', '#ccffcc').style('mix-blend-mode', 'multiply');

// ---- axes ----
function styleAxis(g, color, sw) {
  g.attr('font-family', FONT).attr('font-weight', 'bold').attr('font-size', 32);
  g.selectAll('text').attr('fill', color);
  g.selectAll('line').attr('stroke', color).attr('stroke-width', sw);
  g.select('.domain').attr('stroke', color).attr('stroke-width', sw);
}
function yAxis(xpos, scale, side, major, minor, color) {
  const mk = side === 'left' ? d3.axisLeft : d3.axisRight;
  const big = side === 'left' ? 20 : 18;
  if (minor) {
    const gm = svg.append('g').attr('transform', `translate(${xpos},0)`);
    gm.call(mk(scale).tickValues(minor).tickSize(10).tickSizeOuter(0).tickFormat(''));
    styleAxis(gm, color, 3);
  }
  const g = svg.append('g').attr('transform', `translate(${xpos},0)`);
  g.call(mk(scale).tickValues(major).tickSize(big).tickSizeOuter(0).tickPadding(side === 'left' ? 10 : 11).tickFormat(d3.format('d')));
  styleAxis(g, color, 3);
}
yAxis(129, yWS, 'left', [0,2,4,6], [1,3,5], C.ws);
yAxis(129, yT, 'left', [16,24,32,40], [20,28,36], C.t);
yAxis(129, yV3, 'left', [0,40,80], [10,20,30,50,60,70,90], '#000');
yAxis(129, yV4, 'left', [0,40,80], [10,20,30,50,60,70,90], '#000');
yAxis(1924, yWD, 'right', [0,90,180,270,360], [45,135,225,315], C.wd);
yAxis(1924, yRH, 'right', [0,25,50,75,100], null, C.rhAxis);
yAxis(1924, yV3, 'right', [0,40,80], [10,20,30,50,60,70,90], '#000');
yAxis(1924, yO3, 'right', [0,40,80,120,160], null, '#000');

function xAxis(x) {
  const g = svg.append('g').attr('transform', 'translate(0,831)');
  g.call(d3.axisBottom(x).tickValues(tickDates).tickSize(19).tickSizeOuter(0).tickPadding(18).tickFormat((d,i) => dateTicks[i]));
  styleAxis(g, '#000', 3);
  g.attr('font-size', 35);
}
xAxis(xL); xAxis(xR);

// ---- titles ----
function vTitle(x, y, rot, color, parts) {
  const t = svg.append('text').attr('transform', `translate(${x},${y}) rotate(${rot})`)
    .attr('text-anchor', 'middle').attr('dominant-baseline', 'central')
    .attr('font-size', 36).attr('fill', color);
  parts.forEach(p => {
    const s = t.append('tspan').text(p.t);
    if (p.sub) s.attr('font-size', 25).attr('dy', 9);
    if (p.up) s.attr('dy', -9);
  });
}
vTitle(33, 118, -90, C.ws, [{t:'WS (m/s)'}]);
vTitle(33, 322, -90, C.t, [{t:'T (°C)'}]);
vTitle(33, 531, -90, '#000', [{t:'VOCs (ppb)'}]);
vTitle(33, 745, -90, '#000', [{t:'VOCs (ppb)'}]);
vTitle(2030, 118, 90, C.wd, [{t:'WD (°)'}]);
vTitle(2030, 318, 90, C.rhAxis, [{t:'RH (%)'}]);
vTitle(2024, 521, 90, '#000', [{t:'VOCs (ppb)'}]);
vTitle(2024, 738, 90, '#000', [{t:'O'},{t:'3',sub:true},{t:' (ppb)',up:true}]);

svg.append('text').attr('x', 1052).attr('y', 938).attr('text-anchor', 'middle').attr('font-size', 37).attr('fill', '#000').text('Date [2019/m/d]');

svg.append('text').attr('x', 147).attr('y', 67).attr('font-size', 37).attr('fill', '#000').text(panelNames[0]);
svg.append('text').attr('x', 1067).attr('y', 67).attr('font-size', 37).attr('fill', '#000').text(panelNames[1]);
svg.append('text').attr('x', 145).attr('y', 507).attr('font-size', 36).attr('fill', C.site).text(siteNames[0]);
svg.append('text').attr('x', 143).attr('y', 697).attr('font-size', 36).attr('fill', C.site).text(siteNames[1]);
svg.append('text').attr('x', 1056).attr('y', 508).attr('font-size', 36).attr('fill', C.site).text(siteNames[2]);

// ---- legends ----
const LF = 30;
function ltext(x, y, txt) {
  return svg.append('text').attr('x', x).attr('y', y + 10).attr('font-size', LF).attr('fill', '#000').text(txt);
}
// met legend
const mlY = 448;
svg.append('line').attr('x1', 449).attr('x2', 509).attr('y1', mlY).attr('y2', mlY).attr('stroke', C.ws).attr('stroke-width', 3);
ltext(523, mlY, metLegend[0]);
svg.append('circle').attr('cx', 630).attr('cy', mlY).attr('r', 9.5).attr('fill', 'none').attr('stroke', C.wd).attr('stroke-width', 2.8);
ltext(674, mlY, metLegend[1]);
svg.append('line').attr('x1', 756).attr('x2', 815).attr('y1', mlY).attr('y2', mlY).attr('stroke', C.t).attr('stroke-width', 6);
ltext(829, mlY, metLegend[2]);
svg.append('rect').attr('x', 893).attr('y', mlY - 9).attr('width', 29).attr('height', 19).attr('fill', C.rhFill).attr('stroke', C.rhLine).attr('stroke-width', 2);
ltext(951, mlY, metLegend[3]);

// VOC legend
const vocLegPos = [[1086,447,1141],[1293,447,1350],[1500,447,1556],[1709,447,1767],[1193,485,1250],[1549,485,1607],[1758,485,1815]];
vocCategories.forEach((name, k) => {
  const [rx, cy, tx] = vocLegPos[k];
  svg.append('rect').attr('x', rx).attr('y', cy - 10).attr('width', 28).attr('height', 20)
    .attr('fill', vocFill[k]).attr('stroke', vocLine[k]).attr('stroke-width', 2);
  ltext(tx, cy, name);
});

// O3 legend
const o3LegPos = [[1180,1241,1256],[1423,1482,1498],[1683,1745,1761]];
const olY = 637;
o3Sites.forEach((name, k) => {
  const [a, b, tx] = o3LegPos[k];
  svg.append('line').attr('x1', a).attr('x2', b).attr('y1', olY).attr('y2', olY).attr('stroke', o3Colors[k]).attr('stroke-width', 5);
  const t = svg.append('text').attr('x', tx).attr('y', olY + 10).attr('font-size', LF).attr('fill', '#000');
  t.append('tspan').text('O');
  t.append('tspan').attr('font-size', 21).attr('dy', 8).text('3');
  t.append('tspan').attr('dy', -8).text(' ' + name);
});
</script>
</body></html>
